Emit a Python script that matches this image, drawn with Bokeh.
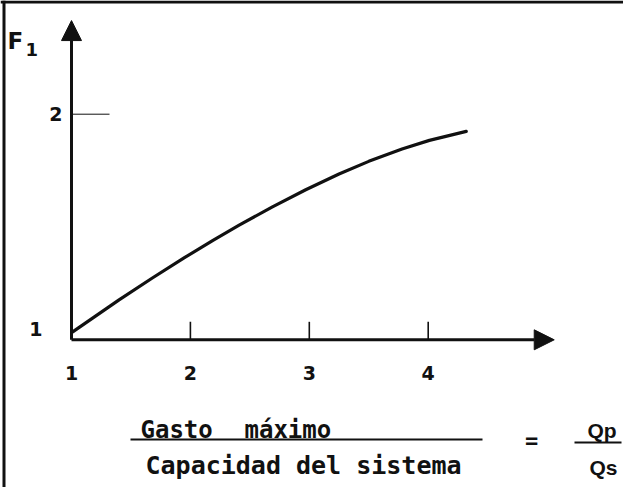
from bokeh.plotting import figure
from bokeh.models import Range1d, Span, Arrow, NormalHead
from bokeh.core.properties import value
from bokeh.embed import file_html
from bokeh.resources import INLINE

# ---------------- data ----------------
curve_x = [1.01, 1.40, 1.68, 1.95, 2.19, 2.41, 2.69, 2.97, 3.25, 3.50, 3.78, 4.01, 4.32]
curve_y = [1.035, 1.177, 1.274, 1.364, 1.441, 1.508, 1.589, 1.665, 1.735, 1.791, 1.846, 1.884, 1.924]

x_ticks = [1, 2, 3, 4]
x_tick_labels = ["1", "2", "3", "4"]
y_ticks = [1, 2]
y_tick_labels = ["1", "2"]

y_title = "F"
y_title_sub = "1"
numerator_words = ["Gasto", "máximo"]
denominator = "Capacidad del sistema"
ratio_num = "Qp"
ratio_den = "Qs"
equals = "="

x_axis_end = 5.06
y_axis_end = 2.415

# ---------------- layout (pixel anchors on the canvas) ----------------
W, H = 623, 487
X0_PX, X_UNIT = 71.0, 118.9     # canvas x of data x=1, px per unit
Y0_PX, Y_UNIT = 339.3, 225.6    # canvas y (from top) of data y=1, px per unit

x_start = 1 - X0_PX / X_UNIT
y_start = 1 - (H - Y0_PX) / Y_UNIT


def X(cx):
    return x_start + cx / X_UNIT


def Y(cy):
    return y_start + (H - cy) / Y_UNIT


def dx(px):
    return px / X_UNIT


def dy(px):
    return px / Y_UNIT


p = figure(width=W, height=H,
           x_range=Range1d(x_start, x_start + W / X_UNIT),
           y_range=Range1d(y_start, y_start + H / Y_UNIT),
           output_backend="svg", toolbar_location=None,
           x_axis_location=None, y_axis_location=None)
p.min_border = 0
p.min_border_left = p.min_border_right = p.min_border_top = p.min_border_bottom = 0
p.xgrid.visible = False
p.ygrid.visible = False
p.outline_line_color = None
p.background_fill_color = "white"
p.border_fill_color = "white"

INK = "#111111"

# frame of the scanned figure (top and left edges)
p.add_layout(Span(location=Y(1.5), dimension="width", line_color=INK, line_width=3))
p.add_layout(Span(location=X(3.5), dimension="height", line_color=INK, line_width=3))

# axes with arrow heads
p.add_layout(Arrow(end=NormalHead(size=20, fill_color=INK, line_color=INK),
                   x_start=x_ticks[0], y_start=y_ticks[0], x_end=x_axis_end, y_end=y_ticks[0],
                   line_color=INK, line_width=3))
p.add_layout(Arrow(end=NormalHead(size=20, fill_color=INK, line_color=INK),
                   x_start=x_ticks[0], y_start=y_ticks[0], x_end=x_ticks[0], y_end=y_axis_end,
                   line_color=INK, line_width=3))

# tick marks (inside)
xt = x_ticks[1:]
p.segment(x0=xt, y0=[y_ticks[0]] * len(xt), x1=xt, y1=[y_ticks[0] + dy(18)] * len(xt),
          line_color=INK, line_width=1.6)
yt = y_ticks[1:]
p.segment(x0=[x_ticks[0]] * len(yt), y0=yt, x1=[x_ticks[0] + dx(38)] * len(yt), y1=yt,
          line_color=INK, line_width=1.0)

# curve
p.line(curve_x, curve_y, line_color=INK, line_width=3.2, line_join="round", line_cap="round")

# tick labels
p.text(x=x_ticks, y=[y_ticks[0] - dy(33)] * len(x_ticks), text=x_tick_labels,
       text_align="center", text_baseline="alphabetic",
       text_font=value("DejaVu Sans"), text_font_size="19px", text_font_style="bold",
       text_color=INK)
y_label_shift = {1: (29, 11), 2: (9, 0)}
p.text(x=[x_ticks[0] - dx(y_label_shift[t][0]) for t in y_ticks],
       y=[t + dy(y_label_shift[t][1]) for t in y_ticks],
       text=y_tick_labels, text_align="right", text_baseline="middle",
       text_font=value("DejaVu Sans"), text_font_size="19px", text_font_style="bold",
       text_color=INK)

# y-axis title F1
p.text(x=[X(7)], y=[Y(40)], text=[y_title], text_align="left", text_baseline="alphabetic",
       text_font=value("DejaVu Sans"), text_font_size="23px", text_font_style="bold",
       text_color=INK)
p.text(x=[X(25)], y=[Y(49)], text=[y_title_sub], text_align="left", text_baseline="alphabetic",
       text_font=value("DejaVu Sans"), text_font_size="18px", text_font_style="bold",
       text_color=INK)

# x-axis title as a fraction
mono = value("DejaVu Sans Mono")
p.text(x=[X(140), X(244)], y=[Y(429), Y(429)], text=numerator_words,
       text_align="left", text_baseline="alphabetic",
       text_font=mono, text_font_size="24px", text_font_style="bold", text_color=INK)
p.segment(x0=[X(130)], y0=[Y(439)], x1=[X(482)], y1=[Y(439)], line_color=INK, line_width=2)
p.text(x=[X(145)], y=[Y(465)], text=[denominator], text_align="left", text_baseline="alphabetic",
       text_font=mono, text_font_size="25px", text_font_style="bold", text_color=INK)
p.text(x=[X(531)], y=[Y(440)], text=[equals], text_align="center", text_baseline="middle",
       text_font=mono, text_font_size="22px", text_font_style="bold", text_color=INK)
p.text(x=[X(587)], y=[Y(430)], text=[ratio_num], text_align="left", text_baseline="alphabetic",
       text_font=value("Liberation Sans"), text_font_size="21px", text_font_style="bold",
       text_color=INK)
p.segment(x0=[X(574)], y0=[Y(442)], x1=[X(621)], y1=[Y(442)], line_color=INK, line_width=2)
p.text(x=[X(589)], y=[Y(467)], text=[ratio_den], text_align="left", text_baseline="alphabetic",
       text_font=value("Liberation Sans"), text_font_size="21px", text_font_style="bold",
       text_color=INK)

open("out.html", "w").write(file_html(p, INLINE))
